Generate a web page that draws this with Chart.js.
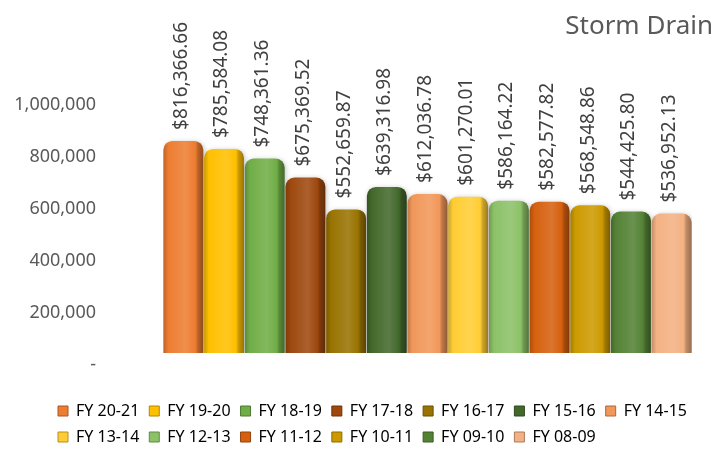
<!DOCTYPE html>
<html>
<head>
<meta charset="utf-8">
<title>Storm Drain</title>
<script src="https://cdn.jsdelivr.net/npm/chart.js@4.4.1/dist/chart.umd.min.js"></script>
<style>
  html, body { margin: 0; padding: 0; background: #fff; }
  #wrap { width: 717px; height: 462px; }
</style>
</head>
<body>
<div id="wrap"><canvas id="stormChart"></canvas></div>
<script>
var fiscalYears = ['FY 20-21', 'FY 19-20', 'FY 18-19', 'FY 17-18', 'FY 16-17', 'FY 15-16', 'FY 14-15',
                   'FY 13-14', 'FY 12-13', 'FY 11-12', 'FY 10-11', 'FY 09-10', 'FY 08-09'];
var amounts = [816366.66, 785584.08, 748361.36, 675369.52, 552659.87, 639316.98, 612036.78,
               601270.01, 586164.22, 582577.82, 568548.86, 544425.80, 536952.13];
var barColors = ['#ED7D31', '#FFC000', '#70AD47', '#9E480E', '#997300', '#43682B', '#F1975A',
                 '#FFCD33', '#8CC168', '#D6600F', '#CC9A00', '#548235', '#F4B183'];
var yMax = 1000000;
var yStep = 200000;

var textFont = '"Noto Sans", "Open Sans", sans-serif';

// lighten (f > 0) or darken (f < 0) a hex colour
function shade(hex, f) {
  var n = parseInt(hex.slice(1), 16);
  var rgb = [n >> 16, (n >> 8) & 255, n & 255].map(function (v) {
    return Math.round(f < 0 ? v * (1 + f) : v + (255 - v) * f);
  });
  return 'rgb(' + rgb.join(',') + ')';
}

var money = new Intl.NumberFormat('en-US', { minimumFractionDigits: 2, maximumFractionDigits: 2 });
var plain = new Intl.NumberFormat('en-US');

// cylinder-ish shading across each bar
function barFill(c) {
  var base = barColors[c.dataIndex];
  var xs = c.chart.scales.x;
  if (!xs || !c.chart.chartArea) return base;
  var w = xs.width / fiscalYears.length * 0.98;
  var cx = xs.getPixelForValue(c.dataIndex);
  var g = c.chart.ctx.createLinearGradient(cx - w / 2, 0, cx + w / 2, 0);
  g.addColorStop(0, shade(base, -0.2));
  g.addColorStop(0.12, base);
  g.addColorStop(0.55, shade(base, 0.13));
  g.addColorStop(0.8, base);
  g.addColorStop(0.87, shade(base, -0.22));
  g.addColorStop(1, shade(base, -0.38));
  return g;
}

// soft shadow under the bars, rotated value labels above them,
// and the legend nudged in so it lines up under the plot
var barExtras = {
  id: 'barExtras',
  afterLayout: function (chart) {
    if (chart.legend) {
      chart.legend.left += 44;
      chart.legend.top += 1;
    }
  },
  beforeDatasetsDraw: function (chart) {
    var ctx = chart.ctx;
    ctx.save();
    ctx.shadowColor = 'rgba(0,0,0,0.25)';
    ctx.shadowBlur = 5;
    ctx.shadowOffsetX = 1;
    ctx.shadowOffsetY = 1;
  },
  afterDatasetsDraw: function (chart) {
    var ctx = chart.ctx;
    ctx.restore();
    var meta = chart.getDatasetMeta(0);
    ctx.save();
    ctx.font = '19px ' + textFont;
    ctx.fillStyle = '#404040';
    ctx.textAlign = 'left';
    ctx.textBaseline = 'middle';
    meta.data.forEach(function (bar, i) {
      ctx.save();
      ctx.translate(bar.x - 2, bar.y - 11);
      ctx.rotate(-Math.PI / 2);
      ctx.fillText('$' + money.format(amounts[i]), 0, 0);
      ctx.restore();
    });
    ctx.restore();
  }
};

var ctx = document.getElementById('stormChart').getContext('2d');
var stormChart = new Chart(ctx, {
  type: 'bar',
  data: {
    labels: fiscalYears,
    datasets: [{
      data: amounts,
      backgroundColor: barFill,
      borderWidth: 0,
      borderRadius: { topLeft: 9, topRight: 9, bottomLeft: 0, bottomRight: 0 },
      borderSkipped: 'start',
      categoryPercentage: 1,
      barPercentage: 0.98
    }]
  },
  options: {
    responsive: true,
    maintainAspectRatio: false,
    animation: false,
    layout: { padding: { left: 4, right: 4, top: 0, bottom: 8 } },
    scales: {
      x: {
        grid: { display: false, drawTicks: false },
        border: { display: false },
        ticks: { display: false },
        afterFit: function (s) { s.height = 39; }
      },
      y: {
        min: 0,
        max: yMax,
        grid: { display: false, drawTicks: false },
        border: { display: false },
        ticks: {
          stepSize: yStep,
          padding: 67,
          labelOffset: 12,
          color: '#595959',
          font: { family: textFont, size: 18 },
          callback: function (v) { return v === 0 ? '-' : plain.format(v); }
        },
        afterFit: function (s) { s.width = 159; }
      },
      // empty strip on the right so the plot ends before the title
      yRight: {
        position: 'right',
        grid: { display: false, drawTicks: false },
        border: { display: false },
        ticks: { display: false },
        afterFit: function (s) { s.width = 21; }
      }
    },
    plugins: {
      title: {
        display: true,
        text: 'Storm Drain',
        align: 'end',
        color: '#595959',
        font: { family: textFont, size: 26, weight: 'normal' },
        padding: { top: 11, bottom: 51 }
      },
      legend: {
        position: 'bottom',
        align: 'start',
        labels: {
          boxWidth: 10,
          boxHeight: 10,
          padding: 10,
          color: '#595959',
          font: { family: textFont, size: 16 },
          generateLabels: function () {
            return fiscalYears.map(function (fy, i) {
              return {
                text: fy,
                fillStyle: barColors[i],
                strokeStyle: shade(barColors[i], -0.3),
                lineWidth: 1,
                hidden: false,
                index: i,
                datasetIndex: 0
              };
            });
          }
        }
      },
      tooltip: { enabled: false }
    }
  },
  plugins: [barExtras]
});
</script>
</body>
</html>
